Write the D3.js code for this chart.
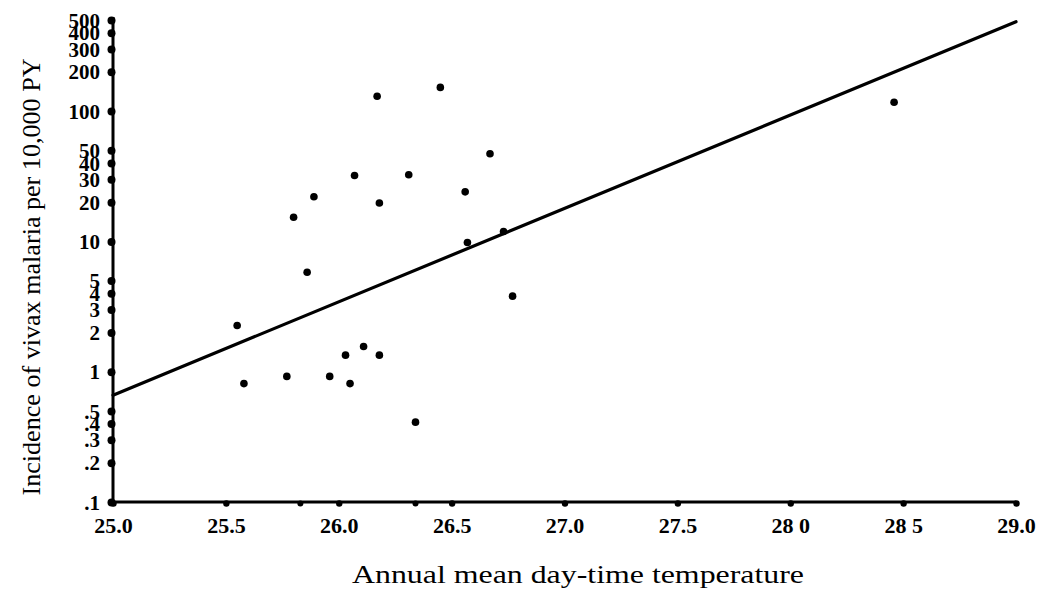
<!DOCTYPE html>
<html>
<head>
<meta charset="utf-8">
<script src="https://cdn.jsdelivr.net/npm/d3@7"></script>
<style>
  html, body { margin: 0; padding: 0; background: #fff; }
  svg { display: block; }
  text { font-family: "Liberation Serif", "DejaVu Serif", serif; fill: #000; }
</style>
</head>
<body>
<svg id="chart" width="1040" height="592"></svg>
<script>
// ---- data ----
const temperature = [26.17, 26.45, 26.67, 26.07, 26.31, 25.89, 26.18, 25.80, 26.56, 26.73, 26.57,
                     25.86, 26.77, 25.55, 26.11, 26.03, 26.18, 25.77, 25.96, 25.58, 26.05, 26.34, 28.46];
const incidence   = [130, 152, 47, 32, 32.5, 22, 19.7, 15.3, 24, 11.9, 9.8,
                     5.8, 3.8, 2.26, 1.56, 1.34, 1.34, 0.92, 0.92, 0.81, 0.81, 0.41, 117];
const zeroTemps = [25.83, 26.34];          // marks sitting on the x axis
const fitX = [25.0, 29.0];
const fitY = [0.66, 485];
const xTicks = [25.0, 25.5, 26.0, 26.5, 27.0, 27.5, 28.0, 28.5, 29.0];
const xTickLabels = ["25.0", "25.5", "26.0", "26.5", "27.0", "27.5", "28 0", "28 5", "29.0"];
const yTicks = [500, 400, 300, 200, 100, 50, 40, 30, 20, 10, 5, 4, 3, 2, 1, 0.5, 0.4, 0.3, 0.2, 0.1];
const yTickLabels = ["500", "400", "300", "200", "100", "50", "40", "30", "20", "10", "5", "4", "3", "2", "1", ".5", ".4", ".3", ".2", ".1"];
const xTitle = "Annual mean day-time temperature";
const yTitle = "Incidence of vivax malaria per 10,000 PY";

// ---- layout ----
const svg = d3.select("#chart");
const mLeft = 113, mRight = 1016, mTop = 20, mBottom = 502;

const x = d3.scaleLinear().domain([25, 29]).range([mLeft, mRight]);
const y = d3.scaleLog().domain([0.1, 500]).range([mBottom, mTop]);

// y axis
const yAxis = d3.axisLeft(y).tickValues(yTicks).tickSize(0).tickPadding(12)
  .tickFormat((d, i) => yTickLabels[i]);
const gy = svg.append("g").attr("transform", `translate(${mLeft},0)`).call(yAxis);
gy.select(".domain").attr("stroke", "#000").attr("stroke-width", 3)
  .attr("d", `M0,${mTop - 3}V${mBottom}`);
gy.selectAll(".tick text").attr("font-size", 21).attr("font-weight", "bold")
  .attr("font-family", "Liberation Serif").attr("dy", "0.34em").attr("x", -13);
gy.selectAll(".tick").append("circle").attr("cx", -1.5).attr("cy", 0).attr("r", 4).attr("fill", "#000");

// x axis
const xAxis = d3.axisBottom(x).tickValues(xTicks).tickSize(0).tickPadding(15)
  .tickFormat((d, i) => xTickLabels[i]);
const gx = svg.append("g").attr("transform", `translate(0,${mBottom})`).call(xAxis);
gx.select(".domain").attr("stroke", "#000").attr("stroke-width", 3)
  .attr("d", `M${mLeft},0H${mRight}`);
gx.selectAll(".tick text").attr("font-size", 22).attr("font-weight", "bold")
  .attr("font-family", "Liberation Serif").attr("dy", "0.71em");
gx.selectAll(".tick").append("circle").attr("cx", 0).attr("cy", 1.5).attr("r", 3.2).attr("fill", "#000");

// titles
svg.append("text").attr("x", 578).attr("y", 583).attr("text-anchor", "middle")
  .attr("font-size", 25).attr("textLength", 452).attr("lengthAdjust", "spacingAndGlyphs")
  .text(xTitle);
svg.append("text").attr("transform", "translate(40,277) rotate(-90)").attr("text-anchor", "middle")
  .attr("font-size", 26).attr("textLength", 437).attr("lengthAdjust", "spacingAndGlyphs")
  .text(yTitle);

// regression line
const line = d3.line().x(d => x(d[0])).y(d => y(d[1]));
svg.append("path").datum(d3.zip(fitX, fitY)).attr("d", line)
  .attr("fill", "none").attr("stroke", "#000").attr("stroke-width", 3.2).attr("stroke-linecap", "round");

// points
svg.append("g").selectAll("circle").data(d3.zip(temperature, incidence)).join("circle")
  .attr("cx", d => x(d[0])).attr("cy", d => y(d[1])).attr("r", 3.8).attr("fill", "#000");

svg.append("g").selectAll("circle").data(zeroTemps).join("circle")
  .attr("cx", d => x(d)).attr("cy", y(0.1) + 1.5).attr("r", 3).attr("fill", "#000");
</script>
</body>
</html>
